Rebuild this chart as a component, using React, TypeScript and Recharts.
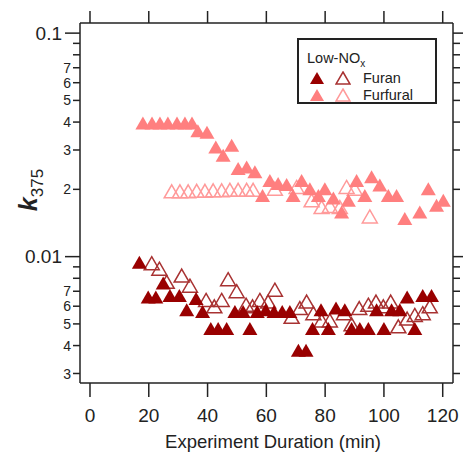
import {
  ScatterChart,
  Scatter,
  XAxis,
  YAxis,
  Legend,
} from "recharts";

// Experiment duration (min) and k375 for each series
const furanFilledTime = [
  16.8, 19.8, 22.4, 24.9, 27.2, 30.4, 32.9, 36.1, 38.3, 41.1, 43.6, 46.5, 49.3,
  52.1, 54.4, 56.9, 59.8, 62.6, 65.4, 68.0, 70.9, 73.5, 75.7, 78.6, 81.1, 83.7,
  86.7, 89.0, 91.8, 94.7, 97.5, 100.0, 102.6, 105.4, 107.9, 110.5, 113.2, 116.2,
];
const furanFilledK = [
  0.0093, 0.0065, 0.0065, 0.0075, 0.0066, 0.0066, 0.0057, 0.0064, 0.0056,
  0.0047, 0.0047, 0.0047, 0.0056, 0.0056, 0.0047, 0.0056, 0.0057, 0.0056,
  0.0056, 0.0056, 0.00375, 0.00375, 0.0047, 0.0057, 0.0047, 0.0058, 0.0057,
  0.0047, 0.0047, 0.0047, 0.0057, 0.0047, 0.0057, 0.0057, 0.0065, 0.0047,
  0.0066, 0.0066,
];

const furanOpenTime = [
  21.0, 23.6, 26.1, 31.2, 34.0, 39.5, 42.3, 44.8, 47.0, 49.9, 53.1, 55.3, 57.8,
  60.6, 62.9, 68.6, 71.4, 73.7, 76.0, 78.8, 81.6, 86.4, 89.0, 91.6, 94.7, 97.3,
  99.8, 102.3, 104.9, 107.9, 110.5, 113.2, 115.6,
];
const furanOpenK = [
  0.0092, 0.0087, 0.0076, 0.0081, 0.0073, 0.0063, 0.0059, 0.0063, 0.0078,
  0.0069, 0.006, 0.0059, 0.0063, 0.0062, 0.007, 0.0053, 0.0058, 0.0062,
  0.0055, 0.0051, 0.0051, 0.0055, 0.0049, 0.0058, 0.006, 0.0062, 0.0059,
  0.0062, 0.0048, 0.0052, 0.0054, 0.0055, 0.0059,
];

const furfuralFilledTime = [
  18.0, 21.1, 23.8, 26.5, 29.6, 32.3, 34.7, 36.7, 39.8, 42.8, 45.3, 48.2, 50.4,
  53.3, 56.1, 58.7, 61.2, 64.0, 66.9, 69.1, 72.0, 74.8, 77.7, 79.9, 82.8, 85.6,
  87.9, 90.7, 93.5, 95.8, 98.6, 101.5, 104.3, 107.1, 112.2, 115.1, 117.9, 120.2,
];
const furfuralFilledK = [
  0.039, 0.039, 0.039, 0.039, 0.039, 0.039, 0.039, 0.036, 0.0355, 0.0305,
  0.028, 0.031, 0.0244, 0.0248, 0.0236, 0.0185, 0.0216, 0.0209, 0.0207,
  0.0185, 0.0216, 0.0198, 0.0185, 0.0198, 0.018, 0.0156, 0.0176, 0.0216,
  0.0185, 0.0224, 0.0206, 0.0185, 0.0185, 0.0146, 0.0156, 0.0198, 0.0167,
  0.0176,
];

const furfuralOpenTime = [
  27.8, 30.6, 33.4, 36.3, 39.1, 41.9, 44.8, 47.6, 50.4, 53.3, 55.5, 62.9, 70.3,
  75.4, 78.8, 81.6, 85.0, 87.3, 90.1, 95.2,
];
const furfuralOpenK = [
  0.0193, 0.0193, 0.0193, 0.0194, 0.0194, 0.0195, 0.0195, 0.0196, 0.0196,
  0.0196, 0.0196, 0.0198, 0.0202, 0.0176, 0.0164, 0.0166, 0.0164, 0.0202,
  0.0198, 0.0149,
];

const xTicks = [0, 20, 40, 60, 80, 100, 120];
const yTicks = [
  0.003, 0.004, 0.005, 0.006, 0.007, 0.008, 0.009, 0.01, 0.02, 0.03, 0.04, 0.05,
  0.06, 0.07, 0.08, 0.09, 0.1,
];
const yTickLabels = [
  "3", "4", "5", "6", "7", "", "", "0.01", "2", "3", "4", "5", "6", "7", "", "", "0.1",
];

const DARK = "#990000";
const DARK_OPEN = "#a83232";
const PINK = "#ff7f7f";
const PINK_OPEN = "#ff9a9a";
const FONT = "'Liberation Sans', Arial, sans-serif";
const INK = "#222";

const zip = (t: number[], k: number[]) => t.map((x, i) => ({ x, y: k[i] }));

const triangle = (color: string, open: boolean) => (props: any) => {
  const { cx, cy } = props;
  if (cx == null || cy == null) return <g />;
  const pts = `${cx},${cy - 8} ${cx + 7.5},${cy + 5} ${cx - 7.5},${cy + 5}`;
  return open ? (
    <polygon points={pts} fill="none" stroke={color} strokeWidth={1.5} />
  ) : (
    <polygon points={pts} fill={color} stroke="none" />
  );
};

function LeftTick(props: any) {
  const { x, y, index } = props;
  const label = yTickLabels[index];
  const major = label.includes(".");
  return (
    <g>
      <line x1={x - (major ? 15 : 7)} x2={x} y1={y} y2={y} stroke={INK} strokeWidth={1.5} />
      <text
        x={x - (major ? 18 : 9)}
        y={y}
        dy="0.36em"
        textAnchor="end"
        fontSize={major ? 19 : 14}
        fontFamily={FONT}
        fill={INK}
      >
        {label}
      </text>
    </g>
  );
}

function RightTick(props: any) {
  const { x, y, index } = props;
  const major = yTickLabels[index].includes(".");
  return <line x1={x} x2={x + (major ? 12 : 7)} y1={y} y2={y} stroke={INK} strokeWidth={1.5} />;
}

function BottomTick(props: any) {
  const { x, y, payload } = props;
  return (
    <g>
      <line x1={x} x2={x} y1={y} y2={y + 14} stroke={INK} strokeWidth={1.5} />
      <text x={x} y={y + 39} textAnchor="middle" fontSize={19} fontFamily={FONT} fill={INK}>
        {payload.value}
      </text>
    </g>
  );
}

function TopTick(props: any) {
  const { x, y } = props;
  return <line x1={x} x2={x} y1={y - 12} y2={y} stroke={INK} strokeWidth={1.5} />;
}

function YLabel() {
  const cx = 31;
  const cy = 190;
  return (
    <text
      transform={`rotate(-90, ${cx}, ${cy})`}
      x={cx}
      y={cy}
      dy="0.35em"
      textAnchor="middle"
      fontFamily={FONT}
      fill={INK}
    >
      <tspan fontSize={25} fontWeight="bold" fontStyle="italic">k</tspan>
      <tspan fontSize={17} dy={6}>375</tspan>
    </text>
  );
}

function XLabel() {
  return (
    <text x={273} y={448} textAnchor="middle" fontSize={18.5} fontFamily={FONT} fill={INK}>
      Experiment Duration (min)
    </text>
  );
}

const Tri = ({ color, open }: { color: string; open: boolean }) => (
  <svg width={16} height={14} style={{ display: "block" }}>
    <polygon
      points="8,1 15,13 1,13"
      fill={open ? "none" : color}
      stroke={open ? color : "none"}
      strokeWidth={1.5}
    />
  </svg>
);

function LegendBox() {
  const row = { display: "flex", alignItems: "center", height: 17 } as const;
  return (
    <div
      style={{
        width: 140,
        height: 66,
        boxSizing: "border-box",
        border: `2px solid ${INK}`,
        background: "#fff",
        fontFamily: FONT,
        fontSize: 14.5,
        color: INK,
        padding: "10px 0 0 8px",
      }}
    >
      <div style={{ height: 19, lineHeight: "17px" }}>
        Low-NO<sub style={{ fontSize: 10 }}>x</sub>
      </div>
      <div style={row}>
        <div style={{ width: 16, marginLeft: 2, marginRight: 10 }}><Tri color={DARK} open={false} /></div>
        <div style={{ width: 16, marginRight: 12 }}><Tri color={DARK_OPEN} open /></div>
        <span>Furan</span>
      </div>
      <div style={row}>
        <div style={{ width: 16, marginLeft: 2, marginRight: 10 }}><Tri color={PINK} open={false} /></div>
        <div style={{ width: 16, marginRight: 12 }}><Tri color={PINK_OPEN} open /></div>
        <span>Furfural</span>
      </div>
    </div>
  );
}

export default function App() {
  const axisLine = { stroke: INK, strokeWidth: 1.5 };
  return (
    <div style={{ position: "absolute", left: 0, top: 0, background: "#fff" }}>
      <ScatterChart width={463} height={454} margin={{ top: 3, right: 0, bottom: 20, left: 20 }}>
        <XAxis
          dataKey="x"
          type="number"
          domain={[-3.4, 123.5]}
          ticks={xTicks}
          interval={0}
          allowDataOverflow
          height={51}
          tickSize={0}
          tickMargin={0}
          tickLine={false}
          axisLine={axisLine}
          tick={<BottomTick />}
          label={<XLabel />}
        />
        <XAxis
          xAxisId="top"
          orientation="top"
          dataKey="x"
          type="number"
          domain={[-3.4, 123.5]}
          ticks={xTicks}
          interval={0}
          allowDataOverflow
          height={20}
          tickSize={0}
          tickMargin={0}
          tickLine={false}
          axisLine={axisLine}
          tick={<TopTick />}
        />
        <YAxis
          dataKey="y"
          type="number"
          scale="log"
          domain={[0.00272, 0.111]}
          ticks={yTicks}
          interval={0}
          allowDataOverflow
          width={60}
          tickSize={0}
          tickMargin={0}
          tickLine={false}
          axisLine={axisLine}
          tick={<LeftTick />}
          label={<YLabel />}
        />
        <YAxis
          yAxisId="right"
          orientation="right"
          dataKey="y"
          type="number"
          scale="log"
          domain={[0.00272, 0.111]}
          ticks={yTicks}
          interval={0}
          allowDataOverflow
          width={10}
          tickSize={0}
          tickMargin={0}
          tickLine={false}
          axisLine={axisLine}
          tick={<RightTick />}
        />
        <Legend
          layout="horizontal"
          verticalAlign="middle"
          align="center"
          content={<LegendBox />}
          wrapperStyle={{ position: "absolute", left: 297, top: 38, width: 140, height: 66 }}
        />
        <Scatter
          xAxisId="top"
          yAxisId="right"
          data={zip(furanFilledTime, furanFilledK)}
          shape={() => <g />}
          legendType="none"
          isAnimationActive={false}
        />
        <Scatter name="Furan open" data={zip(furanOpenTime, furanOpenK)} shape={triangle(DARK_OPEN, true)} isAnimationActive={false} />
        <Scatter name="Furan" data={zip(furanFilledTime, furanFilledK)} shape={triangle(DARK, false)} isAnimationActive={false} />
        <Scatter name="Furfural open" data={zip(furfuralOpenTime, furfuralOpenK)} shape={triangle(PINK_OPEN, true)} isAnimationActive={false} />
        <Scatter name="Furfural" data={zip(furfuralFilledTime, furfuralFilledK)} shape={triangle(PINK, false)} isAnimationActive={false} />
      </ScatterChart>
    </div>
  );
}
